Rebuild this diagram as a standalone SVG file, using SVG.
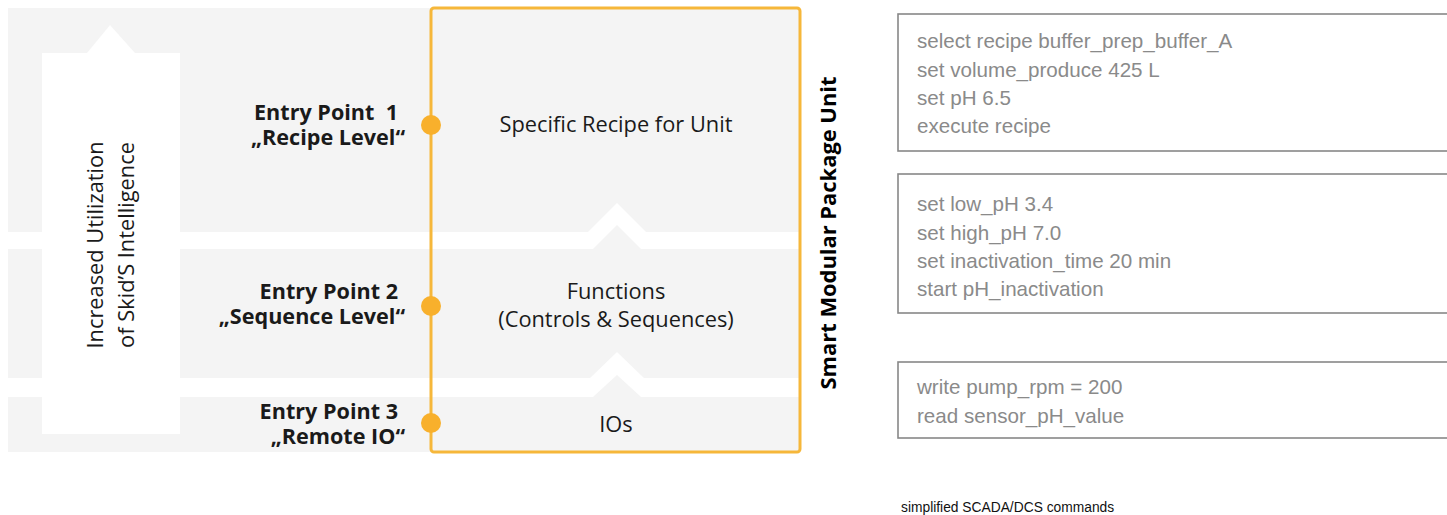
<svg xmlns="http://www.w3.org/2000/svg" width="1447" height="515" viewBox="0 0 1447 515">
<style>
.band{fill:#f4f4f4}
.wh{fill:#ffffff}
.ep{font-family:"Open Sans","DejaVu Sans",sans-serif;font-weight:700;font-size:21.6px;fill:#1a1a1a;text-anchor:end}
.ct{font-family:"Open Sans","DejaVu Sans",sans-serif;font-size:21.8px;fill:#1a1a1a;text-anchor:middle}
.rot{font-family:"Open Sans","DejaVu Sans",sans-serif;font-size:21.8px;fill:#1a1a1a;text-anchor:middle}
.smart{font-family:"Open Sans","DejaVu Sans",sans-serif;font-weight:700;font-size:21.9px;fill:#000;text-anchor:middle}
.cmdbox{fill:#ffffff;stroke:#888888;stroke-width:1.6}
.cmd{font-family:"Liberation Sans",sans-serif;font-size:20.6px;fill:#8a8a8a}
.cap{font-family:"Liberation Sans",sans-serif;font-size:13.8px;fill:#111}
.dot{fill:#F8B02C}
</style>
<g id="background">
<rect class="band" x="8" y="8" width="792" height="224"/>
<polygon class="wh" points="588,232 617,203 646,232"/>
<rect class="band" x="8" y="249" width="792" height="129"/>
<polygon class="band" points="593,249 617,225 641,249"/>
<polygon class="wh" points="590,378 617,352 644,378"/>
<rect class="band" x="8" y="397" width="792" height="55"/>
<polygon class="band" points="593,397 617,375 641,397"/>
</g>
<g id="utilization-arrow">
<rect class="wh" x="42" y="53" width="138" height="381"/>
<polygon class="wh" points="87,53 110,25 135,53"/>
<text class="rot" transform="translate(103,245) rotate(-90)">Increased Utilization</text>
<text class="rot" transform="translate(134,245) rotate(-90)">of Skid’S Intelligence</text>
</g>
<g id="smart-unit">
<rect x="431" y="8" width="369" height="444" rx="3" fill="none" stroke="#F6B73A" stroke-width="3"/>
<text class="ct" x="616" y="132">Specific Recipe for Unit</text>
<text class="ct" x="616" y="299">Functions</text>
<text class="ct" x="616" y="327">(Controls &amp; Sequences)</text>
<text class="ct" x="616" y="432">IOs</text>
<text class="smart" transform="translate(836,233) rotate(-90)">Smart Modular Package Unit</text>
</g>
<g id="entry1">
<circle class="dot" cx="431" cy="125" r="10"/>
<text class="ep" x="398" y="120" xml:space="preserve">Entry Point  1</text>
<text class="ep" x="405" y="145">„Recipe Level“</text>
</g>
<g id="entry2">
<circle class="dot" cx="431" cy="306" r="10"/>
<text class="ep" x="398" y="299">Entry Point 2</text>
<text class="ep" x="405" y="324">„Sequence Level“</text>
</g>
<g id="entry3">
<circle class="dot" cx="431" cy="423" r="10"/>
<text class="ep" x="398" y="419">Entry Point 3</text>
<text class="ep" x="405" y="444">„Remote IO“</text>
</g>
<g id="cmd-recipe">
<rect class="cmdbox" x="898" y="14" width="560" height="137"/>
<text class="cmd" x="917" y="48">select recipe buffer_prep_buffer_A</text>
<text class="cmd" x="917" y="77">set volume_produce 425 L</text>
<text class="cmd" x="917" y="105">set pH 6.5</text>
<text class="cmd" x="917" y="133">execute recipe</text>
</g>
<g id="cmd-sequence">
<rect class="cmdbox" x="898" y="174" width="560" height="139"/>
<text class="cmd" x="917" y="211">set low_pH 3.4</text>
<text class="cmd" x="917" y="240">set high_pH 7.0</text>
<text class="cmd" x="917" y="268">set inactivation_time 20 min</text>
<text class="cmd" x="917" y="296">start pH_inactivation</text>
</g>
<g id="cmd-io">
<rect class="cmdbox" x="898" y="362" width="560" height="76"/>
<text class="cmd" x="917" y="394">write pump_rpm = 200</text>
<text class="cmd" x="917" y="423">read sensor_pH_value</text>
</g>
<text id="caption" class="cap" x="901" y="512">simplified SCADA/DCS commands</text>
</svg>
